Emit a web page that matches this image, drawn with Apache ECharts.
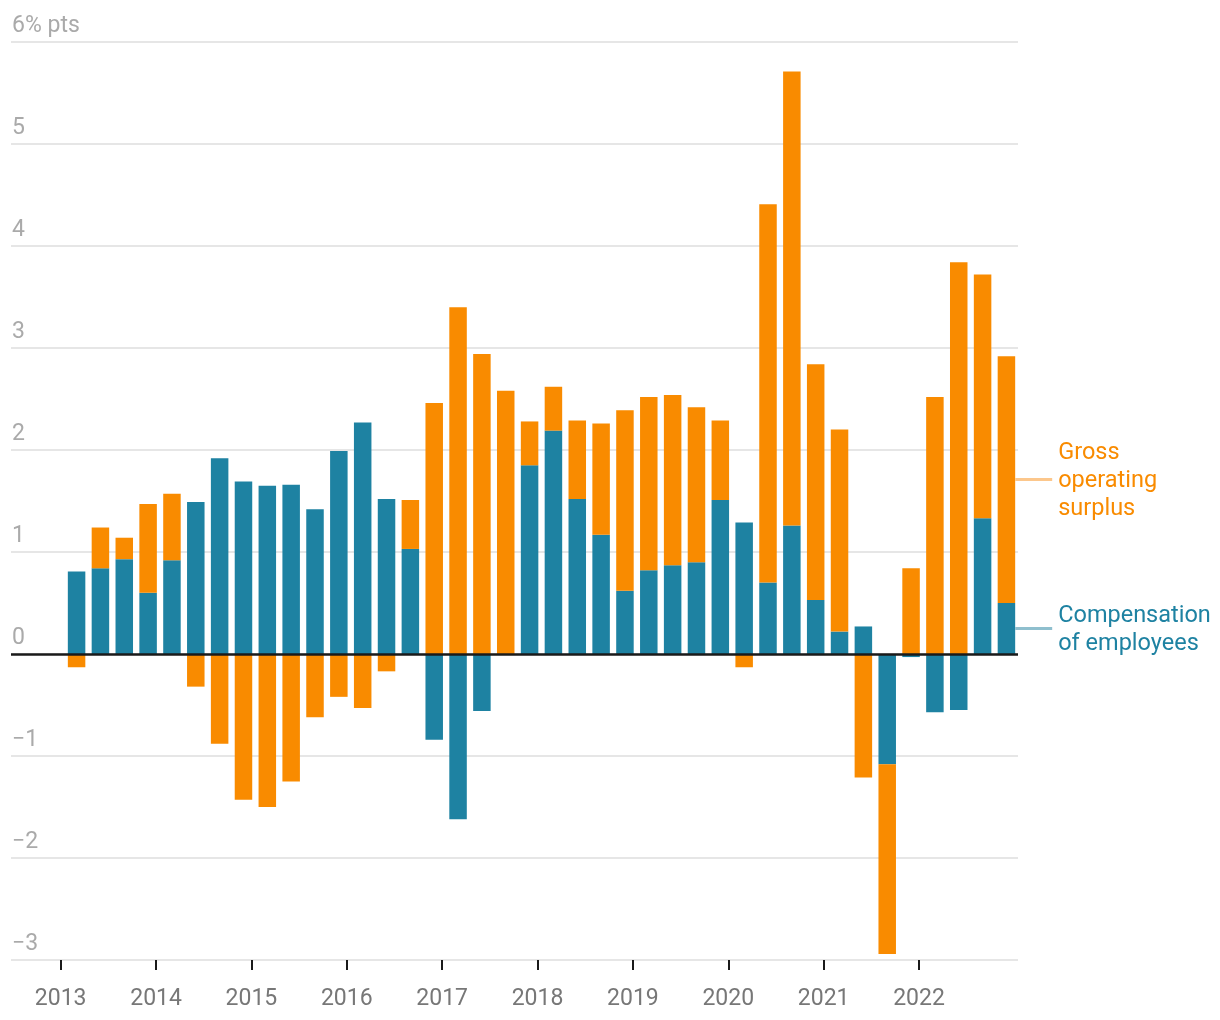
<!DOCTYPE html>
<html>
<head>
<meta charset="utf-8">
<script src="https://cdn.jsdelivr.net/npm/echarts@6/dist/echarts.min.js"></script>
<style>
  html, body { margin: 0; padding: 0; background: #fff; }
  #chart { width: 1220px; height: 1020px; }
</style>
</head>
<body>
<div id="chart"></div>
<script>
// Quarters 2013 Q1 .. 2022 Q4
const quarters = [
  '2013 Q1','2013 Q2','2013 Q3','2013 Q4',
  '2014 Q1','2014 Q2','2014 Q3','2014 Q4',
  '2015 Q1','2015 Q2','2015 Q3','2015 Q4',
  '2016 Q1','2016 Q2','2016 Q3','2016 Q4',
  '2017 Q1','2017 Q2','2017 Q3','2017 Q4',
  '2018 Q1','2018 Q2','2018 Q3','2018 Q4',
  '2019 Q1','2019 Q2','2019 Q3','2019 Q4',
  '2020 Q1','2020 Q2','2020 Q3','2020 Q4',
  '2021 Q1','2021 Q2','2021 Q3','2021 Q4',
  '2022 Q1','2022 Q2','2022 Q3','2022 Q4'
];

// Compensation of employees (% pts)
const compensation = [
  0.81, 0.84, 0.93, 0.60,
  0.92, 1.49, 1.92, 1.69,
  1.65, 1.66, 1.42, 1.99,
  2.27, 1.52, 1.03, -0.84,
  -1.62, -0.56, 0.00, 1.85,
  2.19, 1.52, 1.17, 0.62,
  0.82, 0.87, 0.90, 1.51,
  1.29, 0.70, 1.26, 0.53,
  0.22, 0.27, -1.08, -0.03,
  -0.57, -0.55, 1.33, 0.50
];

// Gross operating surplus (% pts)
const grossSurplus = [
  -0.13, 0.40, 0.21, 0.87,
  0.65, -0.32, -0.88, -1.43,
  -1.50, -1.25, -0.62, -0.42,
  -0.53, -0.17, 0.48, 2.46,
  3.40, 2.94, 2.58, 0.43,
  0.43, 0.77, 1.09, 1.77,
  1.70, 1.67, 1.52, 0.78,
  -0.13, 3.71, 4.45, 2.31,
  1.98, -1.21, -1.86, 0.84,
  2.52, 3.84, 2.39, 2.42
];

const yearTicks = [2013, 2014, 2015, 2016, 2017, 2018, 2019, 2020, 2021, 2022];

const seriesNames = ['Compensation of employees', 'Gross operating surplus'];

// Each quarter is dated at the start of its last month (in fractional years)
function quarterPos(label) {
  const parts = label.split(' Q');
  return Number(parts[0]) + (Number(parts[1]) * 3 - 1) / 12;
}

const TEAL = '#1e82a2';
const ORANGE = '#f98b00';
const FONT = 'Roboto';

// value pairs are [y, x] so that the stacked dimension is the value (y) one
function buildData(values, lastLabel) {
  return values.map((v, i) => {
    const item = { value: [v, quarterPos(quarters[i])] };
    if (i === values.length - 1) item.label = lastLabel;
    return item;
  });
}

const tealLabel = {
  show: true,
  position: 'right',
  distance: 0,
  align: 'left',
  verticalAlign: 'middle',
  fontFamily: FONT,
  fontSize: 23.5,
  color: TEAL,
  formatter: '{s|}{g|}{t|Compensation}\n{l|}\n{s|}{g|}{t|of employees}',
  rich: {
    s: { width: 37, height: 3, lineHeight: 25 },
    g: { width: 6, height: 3, lineHeight: 25 },
    l: { width: 37, height: 3, lineHeight: 3, backgroundColor: '#8fbfce' },
    t: { fontFamily: FONT, fontSize: 23.5, color: TEAL, lineHeight: 25, padding: [3, 0, 0, 0] }
  }
};

const orangeLabel = {
  show: true,
  position: 'right',
  distance: 0,
  align: 'left',
  verticalAlign: 'middle',
  fontFamily: FONT,
  fontSize: 23.5,
  color: ORANGE,
  formatter: '{s|}{g|}{t|Gross}\n{l|}{g|}{t|operating}\n{s|}{g|}{t|surplus}',
  rich: {
    s: { width: 37, height: 3, lineHeight: 28 },
    g: { width: 6, height: 3, lineHeight: 28 },
    l: { width: 37, height: 3, lineHeight: 28, backgroundColor: '#fcc78c' },
    t: { fontFamily: FONT, fontSize: 23.5, color: ORANGE, lineHeight: 28, padding: [3, 0, 0, 0] }
  }
};

const chart = echarts.init(document.getElementById('chart'), null, { renderer: 'canvas' });

chart.setOption({
  animation: false,
  backgroundColor: '#ffffff',
  grid: { left: 11, right: 202, top: 42, bottom: 60, containLabel: false },
  xAxis: {
    type: 'value',
    min: 2012.479,
    max: 2023.038,
    axisLine: { show: false, onZero: false },
    splitLine: { show: false },
    axisTick: {
      show: true,
      customValues: yearTicks,
      length: 10,
      lineStyle: { color: '#1a1a1a', width: 2 }
    },
    axisLabel: {
      show: true,
      customValues: yearTicks,
      formatter: v => String(v),
      fontFamily: FONT,
      fontSize: 23,
      color: '#777777',
      margin: 28
    }
  },
  yAxis: {
    type: 'value',
    min: -3,
    max: 6,
    interval: 1,
    axisLine: { show: false },
    axisTick: { show: false },
    splitLine: { show: true, lineStyle: { color: '#e6e6e6', width: 2 } },
    axisLabel: {
      inside: true,
      margin: 1,
      align: 'left',
      verticalAlign: 'bottom',
      padding: [0, 0, 4, 0],
      fontFamily: FONT,
      fontSize: 23,
      color: '#aaaaaa',
      formatter: v => v === 6 ? '6% pts' : (v < 0 ? '\u2212' + Math.abs(v) : String(v))
    }
  },
  series: [
    {
      name: seriesNames[0],
      type: 'bar',
      stack: 'total',
      barWidth: 17.5,
      encode: { x: 1, y: 0 },
      itemStyle: { color: TEAL },
      label: { show: false },
      data: buildData(compensation, tealLabel),
      markLine: {
        silent: true,
        symbol: 'none',
        label: { show: false },
        lineStyle: { color: '#1a1a1a', width: 2.5, type: 'solid' },
        data: [{ yAxis: 0 }],
        z: 10
      }
    },
    {
      name: seriesNames[1],
      type: 'bar',
      stack: 'total',
      barWidth: 17.5,
      encode: { x: 1, y: 0 },
      itemStyle: { color: ORANGE },
      label: { show: false },
      data: buildData(grossSurplus, orangeLabel)
    }
  ]
});
</script>
</body>
</html>
